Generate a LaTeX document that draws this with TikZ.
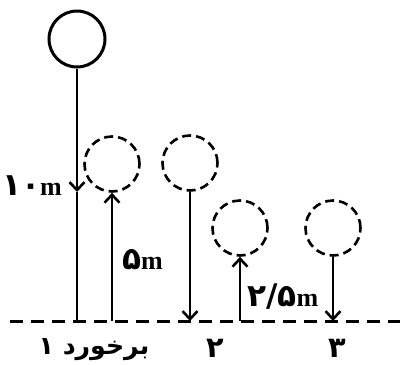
\documentclass[tikz,border=0pt]{standalone}
\usepackage{fontspec}
\setmainfont{Liberation Serif}
\newfontfamily\arabicfont[Script=Arabic,Scale=1.2]{DejaVu Sans}
\TeXXeTstate=1
\usetikzlibrary{arrows.meta}
\newcommand\unitm{\textbf{m}}

\begin{document}
\begin{tikzpicture}[x=1pt,y=-1pt]%
        \useasboundingbox (0,0) rectangle (400,365);%%
        \tikzset{barb/.style={line width=2.6pt,-{Straight Barb[length=8pt,width=15pt]}}}%%
        % balls
        \begin{scope}[shape=circle,inner sep=0pt,minimum size=56pt]
        \tikzstyle{every node}=[draw,line width=3pt] %%
        \node (b0) at (77,39)  {}; %%
        \end{scope}%
        \begin{scope}[shape=circle,inner sep=0pt,minimum size=55pt]
        \tikzstyle{every node}=[draw,line width=2.6pt,dash pattern=on 9pt off 5pt] %%
        \node (b1) at (112,164)  {}; %%
        \node (b2) at (190,163)  {}; %%
        \node (b3) at (240,228)  {}; %%
        \node (b4) at (333,228)  {}; %%
        \end{scope}
        % ground points
        \coordinate (gl) at (10,321); %%
        \coordinate (gr) at (400,321); %%
        \coordinate (m0) at (77,192); %%
        \coordinate (g0) at (77,321); %%
        \coordinate (g1) at (112,321); %%
        \coordinate (g2) at (190,321); %%
        \coordinate (g3) at (240,321); %%
        \coordinate (g4) at (333,321); %%
        \draw[line width=3pt,dash pattern=on 13pt off 8pt] (gl)--(gr); %%
        \draw[barb] (b0.south)--(m0); %%
        \draw[line width=2.6pt] (m0)--(g0); %%
        \draw[barb] (g1)--(b1.south); %%
        \draw[barb] (b2.south)--(g2); %%
        \draw[barb] (g3)--(b3.south); %%
        \draw[barb] (b4.south)--(g4); %%
        % labels
        \begin{scope}
        \tikzstyle{every node}=[inner sep=0pt,font=\fontsize{26}{28}\selectfont\bfseries] %%
        \node[anchor=east] (h0) at (62,186) {{\arabicfont ۱۰}\unitm}; %%
        \node[anchor=west] (h1) at (122,260) {{\arabicfont ۵}\unitm}; %%
        \node[anchor=west] (h2) at (247,297) {{\arabicfont ۲/۵}\unitm}; %%
        \end{scope}
        \begin{scope}
        \tikzstyle{every node}=[inner sep=0pt,font=\fontsize{24}{26}\selectfont\bfseries] %%
        \node[font=\fontsize{21}{23}\selectfont\bfseries] (c1) at (94,350) {\arabicfont\beginR برخورد ۱\endR}; %%
        \node (c2) at (215,348) {\arabicfont ۲}; %%
        \node (c3) at (337,348) {\arabicfont ۳}; %%
        \end{scope}
        \end{tikzpicture}
\end{document}
